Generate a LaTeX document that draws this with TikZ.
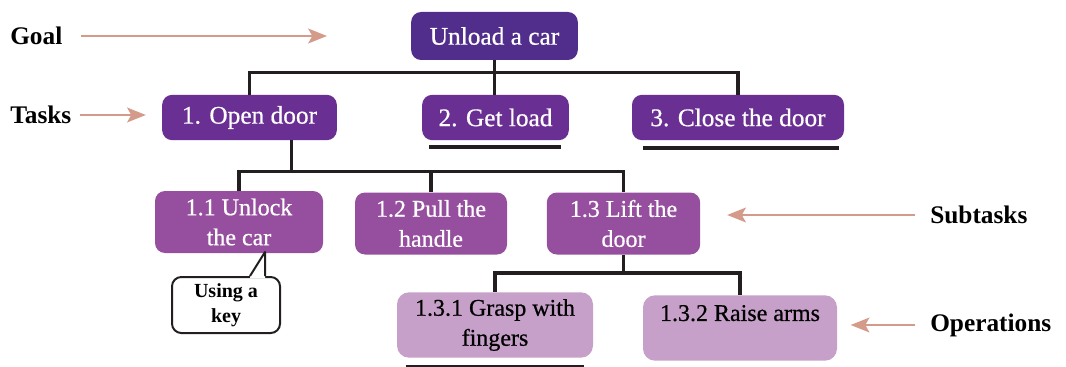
\documentclass[tikz,border=0pt]{standalone}
\usepackage{fontspec}
\setmainfont{Liberation Serif}
\newfontfamily\boxfont[FakeBold=0.6]{Liberation Serif}
\usetikzlibrary{arrows.meta,calc}
\definecolor{goalc}{HTML}{522E8C}
\definecolor{taskc}{HTML}{6A2F92}
\definecolor{subc}{HTML}{964F9E}
\definecolor{opc}{HTML}{C7A0CA}
\definecolor{arrowc}{HTML}{D49A8A}
\definecolor{linec}{HTML}{231F20}

\begin{document}
\begin{tikzpicture}[
  x=0.75pt, y=-0.75pt,
  every node/.style={inner sep=2pt, align=center},
  box/.style={rounded corners=7.5pt, text=white, font=\boxfont\fontsize{19}{22}\selectfont, minimum height=34pt},
  goalbox/.style={box, fill=goalc, minimum height=36pt},
  taskbox/.style={box, fill=taskc},
  subbox/.style={box, fill=subc, minimum height=46.5pt, font=\boxfont\fontsize{18}{22.5}\selectfont},
  opbox/.style={subbox, fill=opc, text=black, minimum height=49pt, rounded corners=9pt},
  keybox/.style={draw=linec, line width=1.5pt, fill=white, rounded corners=7pt, minimum width=81pt, minimum height=42pt, font=\bfseries\fontsize{15}{19}\selectfont},
  level/.style={font=\bfseries\fontsize{19}{22}\selectfont, anchor=west, inner sep=0pt},
  conn/.style={draw=linec, line width=2.6pt},
  uline/.style={draw=linec, line width=3pt},
  pointer/.style={draw=arrowc, line width=2.2pt, -{Stealth[length=14pt, width=11pt, inset=3pt]}}
]
\useasboundingbox (0,0) rectangle (1066,367);

% hierarchy
\node[goalbox, minimum width=125pt] (goal) at (494.5,36) {Unload a car};
\node[taskbox, minimum width=131pt] (task1) at (249.5,117.5) {1. Open door};
\node[taskbox, minimum width=110pt] (task2) at (495.5,117.5) {2. Get load};
\node[taskbox, minimum width=159pt] (task3) at (738,117.5) {3. Close the door};
\node[subbox, minimum width=126pt] (sub1) at (239,222) {1.1 Unlock\\the car};
\node[subbox, minimum width=114pt] (sub2) at (431,223.5) {1.2 Pull the\\handle};
\node[subbox, minimum width=115pt] (sub3) at (623.5,223.5) {1.3 Lift the\\door};
\node[opbox, minimum width=147pt] (op1) at (495,325) {1.3.1 Grasp with\\fingers};
\node[opbox, minimum width=145.5pt] (op2) at (740,328) {1.3.2 Raise arms\\\mbox{}};
\node[keybox] (key) at (226,305) {Using a\\key};

% levels
\node[level] (lgoal) at (10,36) {Goal};
\node[level] (ltasks) at (10,115) {Tasks};
\node[level] (lsub) at (930,215) {Subtasks};
\node[level] (lops) at (930,325) {Operations};

% tree lines
\draw[conn] (goal.south) -- (goal.south |- task2.north);
\draw[conn] (task1.north) -- ++(0,-22) -| (task3.north);
\draw[conn] ([xshift=31.5pt]task1.south) -- ++(0,32);
\draw[conn] (sub1.north) -- ++(0,-19) -| (sub3.north);
\draw[conn] (sub2.north) -- ++(0,-21);
\draw[conn] (sub3.south) -- ++(0,18) coordinate (b3);
\draw[conn] (op1.north) |- (b3) -| (op2.north);

% underlines
\draw[uline] ([shift={(7,7)}]task2.south west) -- ([shift={(-8,7)}]task2.south east);
\draw[uline] ([shift={(11,8)}]task3.south west) -- ([shift={(-5,8)}]task3.south east);
\draw[uline] ([shift={(9,9)}]op1.south west) -- ([shift={(-9,9)}]op1.south east);

% callout tail
\fill[white] ($(key.north)+(24,2)$) -- ($(key.north)+(24,0)$) -- ($(key.north)+(39,-24)$) -- ($(key.north)+(39,2)$) -- cycle;
\draw[linec, line width=1.5pt, line join=round] ($(key.north)+(24,0)$) -- ($(key.north)+(39,-24)$) -- ($(key.north)+(39,0)$);

% arrows
\coordinate (goalhead) at (327,36);
\draw[pointer, shorten <=14pt] (lgoal.east) -- (goalhead);
\draw[pointer, shorten <=6pt, shorten >=12pt] (ltasks.east) -- (ltasks.east -| task1.west);
\draw[pointer, shorten <=11pt, shorten >=20pt] (lsub.west) -- (lsub.west -| sub3.east);
\draw[pointer, shorten <=11pt, shorten >=10pt] (lops.west) -- (lops.west -| op2.east);
\end{tikzpicture}
\end{document}
